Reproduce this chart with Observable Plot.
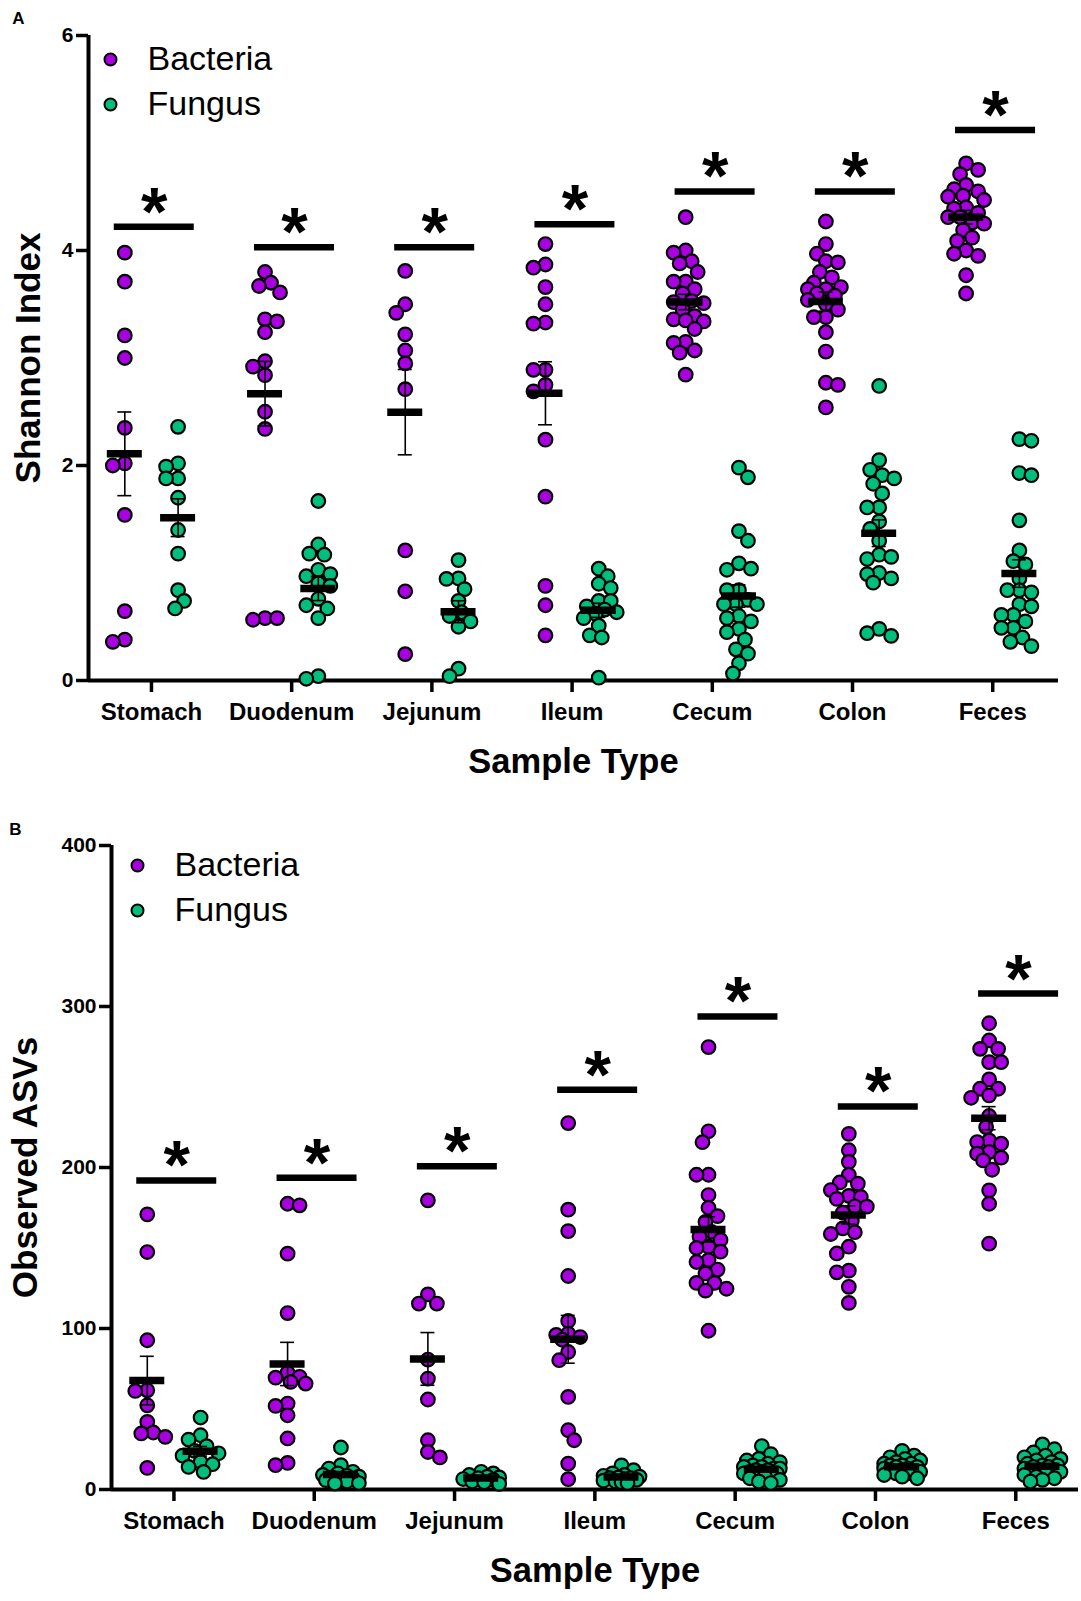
<!DOCTYPE html>
<html>
<head>
<meta charset="utf-8">
<script src="https://cdn.jsdelivr.net/npm/d3@7"></script>
<script src="https://cdn.jsdelivr.net/npm/@observablehq/plot@0.6"></script>
<style>
  html, body { margin: 0; padding: 0; background: #fff; overflow: hidden; }
  #chart { position: relative; width: 1081px; height: 1601px; }
  #chart svg { display: block; }
</style>
</head>
<body>
<div id="chart"></div>
<script>
// ---------- data ----------
const categories = ["Stomach", "Duodenum", "Jejunum", "Ileum", "Cecum", "Colon", "Feces"];
const groups = ["Bacteria", "Fungus"];
const groupColors = ["#A800E0", "#00BE7D"];

// Panel A: Shannon Index (one array per sample type)
const shannonBacteria = [
  [3.98, 3.71, 3.21, 3.0, 2.35, 2.02, 2.0, 1.54, 0.645, 0.38, 0.36],
  [3.80, 3.70, 3.67, 3.61, 3.36, 3.34, 3.24, 2.97, 2.92, 2.84, 2.50, 2.34, 0.58, 0.58, 0.565],
  [3.81, 3.50, 3.42, 3.22, 3.07, 2.95, 2.71, 1.21, 0.83, 0.245],
  [4.06, 3.87, 3.84, 3.66, 3.50, 3.33, 3.32, 2.89, 2.89, 2.75, 2.69, 2.24, 1.71, 0.88, 0.70, 0.42],
  [4.31, 4.0, 3.98, 3.9, 3.88, 3.8, 3.71, 3.71, 3.64, 3.6, 3.53, 3.52, 3.51, 3.45, 3.39, 3.36, 3.35, 3.34, 3.27, 3.15, 3.14, 3.07, 3.05, 2.845],
  [4.27, 4.06, 3.97, 3.9, 3.89, 3.8, 3.75, 3.7, 3.66, 3.64, 3.64, 3.6, 3.58, 3.54, 3.5, 3.45, 3.38, 3.38, 3.24, 3.06, 2.77, 2.75, 2.54],
  [4.81, 4.75, 4.71, 4.61, 4.57, 4.55, 4.51, 4.50, 4.47, 4.4, 4.39, 4.35, 4.31, 4.31, 4.26, 4.25, 4.19, 4.12, 4.09, 4.0, 3.97, 3.95, 3.77, 3.60]
];
const shannonFungus = [
  [2.36, 2.02, 1.99, 1.88, 1.88, 1.70, 1.40, 1.18, 0.84, 0.74, 0.67],
  [1.67, 1.265, 1.18, 1.17, 1.03, 0.99, 0.97, 0.905, 0.88, 0.76, 0.70, 0.67, 0.58, 0.04, 0.016],
  [1.12, 0.95, 0.945, 0.85, 0.74, 0.635, 0.6, 0.55, 0.5, 0.11, 0.04],
  [1.04, 0.97, 0.9, 0.86, 0.74, 0.74, 0.69, 0.66, 0.635, 0.62, 0.58, 0.51, 0.42, 0.40, 0.026],
  [1.98, 1.89, 1.39, 1.30, 1.09, 1.04, 1.03, 0.84, 0.84, 0.75, 0.71, 0.71, 0.71, 0.6, 0.58, 0.55, 0.48, 0.45, 0.38, 0.29, 0.25, 0.16, 0.065],
  [2.74, 2.05, 1.96, 1.91, 1.88, 1.83, 1.74, 1.61, 1.61, 1.48, 1.41, 1.30, 1.17, 1.15, 1.13, 1.0, 0.99, 0.95, 0.91, 0.48, 0.44, 0.415],
  [2.245, 2.23, 1.93, 1.91, 1.49, 1.21, 1.11, 1.08, 0.95, 0.84, 0.84, 0.82, 0.71, 0.69, 0.61, 0.61, 0.55, 0.49, 0.49, 0.40, 0.36, 0.32]
];
const shannonSignif = [4.22, 4.03, 4.03, 4.245, 4.55, 4.55, 5.12];
const shannonTicks = [0, 2, 4, 6];

// Panel B: Observed ASVs
const asvBacteria = [
  [170.9, 147.5, 92.7, 61.6, 61.2, 52.3, 42.0, 35.4, 34.8, 32.7, 13.4],
  [177.5, 176.5, 146.5, 109.6, 72.6, 70, 69.5, 66.8, 65.8, 53.4, 51.9, 46.1, 31.7, 16.5, 15.1],
  [179.6, 121.2, 115.5, 115.5, 80.7, 68.9, 55.9, 30.6, 23.3, 19.9],
  [227.6, 173.8, 160.5, 132.6, 104.7, 96.8, 96, 94.7, 93, 85.4, 80.3, 57.5, 36.8, 30.6, 16.1, 6.4],
  [274.8, 222.5, 215.7, 195.5, 195.5, 182.9, 175, 169.8, 166.2, 160, 157.2, 155, 150.8, 150, 147.7, 142.5, 141.3, 136.6, 134.2, 128.3, 128.3, 124.7, 123.5, 98.6],
  [220.9, 210.7, 203.5, 195.5, 190.7, 190, 186, 182.4, 181.7, 180.5, 175.9, 175.7, 172, 167, 162.2, 159.8, 158.7, 150.8, 146.6, 135.9, 134.9, 125.9, 115.9],
  [289.6, 278.9, 273.7, 273.7, 265.4, 265.4, 254.7, 248.9, 248.9, 244.8, 243.3, 232, 225.1, 216.8, 215.8, 214.8, 209.6, 208.6, 206.1, 204.4, 198.6, 185.8, 177.5, 152.7]
];
const asvFungus = [
  [44.7, 33.7, 31.0, 26.9, 24, 22.5, 21, 17.1, 15.7, 14, 10.9],
  [26.1, 15.1, 13.0, 11, 10, 9, 8.5, 8, 7.5, 6.8, 6, 5.8, 5, 4, 3.7],
  [11, 10, 9, 8, 7.5, 7, 6.5, 6, 5, 4.5, 3.5],
  [15, 12, 10, 9, 8.5, 8, 7.5, 7, 7, 6.5, 6, 5.5, 5, 4.5, 4],
  [27, 22, 19, 18, 17, 16, 15, 14, 14, 13, 13, 12, 12, 11, 11, 10, 10, 9, 9, 8, 7, 6, 5, 4],
  [24, 21, 20, 19, 18, 17, 16, 16, 15, 15, 14, 14, 13, 13, 12, 12, 11, 11, 10, 10, 9, 8, 7],
  [28, 25, 23, 21, 20, 19, 18, 17, 16, 15, 15, 14, 14, 13, 12, 12, 11, 10, 10, 9, 8, 7, 6, 5]
];
const asvSignif = [192, 193.7, 200.8, 248.3, 293.8, 237.9, 308];
const asvTicks = [0, 100, 200, 300, 400];

// ---------- helpers ----------
const FONT = '"Liberation Sans", Arial, Helvetica, sans-serif';

// beeswarm-like horizontal offsets (pixels) for one column of values
function swarmOffsets(vals, pxPerY) {
  const order = d3.range(vals.length).sort((a, b) => d3.descending(vals[a], vals[b]));
  const placed = [];
  const off = new Array(vals.length).fill(0);
  const minDist = 11.5;
  const step = 3, maxSteps = 6;
  order.forEach((k, n) => {
    const py = vals[k] * pxPerY;
    const sign = n % 2 ? 1 : -1;
    const cands = [0];
    for (let s = 1; s <= maxSteps; s++) cands.push(sign * s * step, -sign * s * step);
    let best = null, bestD = -1;
    for (const c of cands) {
      let d = Infinity;
      for (const p of placed) d = Math.min(d, Math.hypot(c - p.x, py - p.y));
      if (d >= minDist) { best = c; break; }
      if (d > bestD) { bestD = d; best = c; }
    }
    off[k] = best;
    placed.push({x: best, y: py});
  });
  return off;
}

function buildPanel(cfg) {
  const {bact, fung, signif, yDomain, yTicks, yLabel, letter, width, height,
         mt, mb, ml, mr, xDomain, yTitleDx, letterDx, letterDy, legendDotDx, legendDy} = cfg;
  const pxPerY = (height - mt - mb) / (yDomain[1] - yDomain[0]);
  const pxPerX = (width - ml - mr) / (xDomain[1] - xDomain[0]);
  const groupShift = [-0.19, 0.19];
  const points = [], stats = [];
  [bact, fung].forEach((series, g) => {
    series.forEach((vals, i) => {
      const off = swarmOffsets(vals, pxPerY);
      const cx = i + groupShift[g];
      vals.forEach((v, k) => points.push({x: cx + off[k] / pxPerX, y: v, group: groups[g]}));
      const mean = d3.mean(vals);
      const sem = d3.deviation(vals) / Math.sqrt(vals.length);
      stats.push({x: cx, mean, lo: mean - sem, hi: mean + sem});
    });
  });
  const sigData = signif.map((v, i) => ({x: i + 0.02, y: v}));
  const barHW = 17.5 / pxPerX, capHW = 7 / pxPerX, sigHW = 40 / pxPerX;

  const marks = [
    Plot.ruleY([yDomain[0]], {stroke: "black", strokeWidth: 4}),
    Plot.ruleX([xDomain[0]], {stroke: "black", strokeWidth: 4}),
    Plot.axisY({ticks: yTicks, tickSize: 12, tickPadding: 3, tickFormat: d => String(d),
                fontSize: 21, fontWeight: "bold", strokeWidth: 3.5, label: null}),
    Plot.axisX({ticks: d3.range(categories.length), tickFormat: i => categories[i],
                tickSize: 12, tickPadding: 10, fontSize: 24, fontWeight: "bold", strokeWidth: 3.5, label: null}),
    Plot.dot(points, {x: "x", y: "y", r: 6.8, fill: "group", stroke: "black", strokeWidth: 2.2}),
    Plot.ruleX(stats, {x: "x", y1: "lo", y2: "hi", stroke: "black", strokeWidth: 1.6}),
    Plot.ruleY(stats, {y: "lo", x1: d => d.x - capHW, x2: d => d.x + capHW, stroke: "black", strokeWidth: 1.6}),
    Plot.ruleY(stats, {y: "hi", x1: d => d.x - capHW, x2: d => d.x + capHW, stroke: "black", strokeWidth: 1.6}),
    Plot.ruleY(stats, {y: "mean", x1: d => d.x - barHW, x2: d => d.x + barHW, stroke: "black", strokeWidth: 7.5}),
    Plot.ruleY(sigData, {y: "y", x1: d => d.x - sigHW, x2: d => d.x + sigHW, stroke: "black", strokeWidth: 6.5}),
    Plot.text(sigData, {x: "x", y: "y", text: () => "*", fontSize: 68, fontWeight: "bold",
                        lineAnchor: "bottom", textAnchor: "middle", dy: 8, fill: "black"}),
    // axis titles and panel letter
    Plot.text([yLabel], {frameAnchor: "left", dx: yTitleDx, rotate: -90, fontSize: 35, fontWeight: "bold",
                         textAnchor: "middle", lineAnchor: "middle", fill: "black"}),
    Plot.text(["Sample Type"], {frameAnchor: "bottom", dy: 81, fontSize: 34.5, fontWeight: "bold",
                                textAnchor: "middle", lineAnchor: "middle", fill: "black"}),
    Plot.text([letter], {frameAnchor: "top-left", dx: letterDx, dy: letterDy, fontSize: 17, fontWeight: "bold",
                         textAnchor: "middle", lineAnchor: "middle", fill: "black"})
  ];
  // legend
  groups.forEach((g, i) => {
    marks.push(Plot.dot([g], {frameAnchor: "top-left", dx: legendDotDx, dy: legendDy + 45 * i, r: 6,
                              fill: d => d, stroke: "black", strokeWidth: 2}));
    marks.push(Plot.text([g], {frameAnchor: "top-left", dx: legendDotDx + 37, dy: legendDy + 45 * i,
                               fontSize: 34, fontWeight: "normal", textAnchor: "start", lineAnchor: "middle", fill: "black"}));
  });

  return Plot.plot({
    width, height, marginTop: mt, marginBottom: mb, marginLeft: ml, marginRight: mr,
    x: {type: "linear", domain: xDomain, axis: null},
    y: {type: "linear", domain: yDomain, axis: null},
    color: {domain: groups, range: groupColors},
    style: {fontFamily: FONT, color: "black", background: "white", overflow: "visible"},
    marks
  });
}

const svgA = buildPanel({
  bact: shannonBacteria, fung: shannonFungus, signif: shannonSignif,
  yDomain: [0, 6], yTicks: shannonTicks, yLabel: "Shannon Index", letter: "A",
  width: 1081, height: 810, mt: 35, mb: 130, ml: 88, mr: 23,
  xDomain: [-0.449, 6.469], yTitleDx: -60, letterDx: -70, letterDy: -17,
  legendDotDx: 22, legendDy: 24
});
const svgB = buildPanel({
  bact: asvBacteria, fung: asvFungus, signif: asvSignif,
  yDomain: [0, 400], yTicks: asvTicks, yLabel: "Observed ASVs", letter: "B",
  width: 1081, height: 791, mt: 35, mb: 112, ml: 111, mr: 3,
  xDomain: [-0.445, 6.447], yTitleDx: -86, letterDx: -96, letterDy: -16,
  legendDotDx: 26, legendDy: 20
});
const root = document.getElementById("chart");
root.appendChild(svgA);
root.appendChild(svgB);
</script>
</body>
</html>
